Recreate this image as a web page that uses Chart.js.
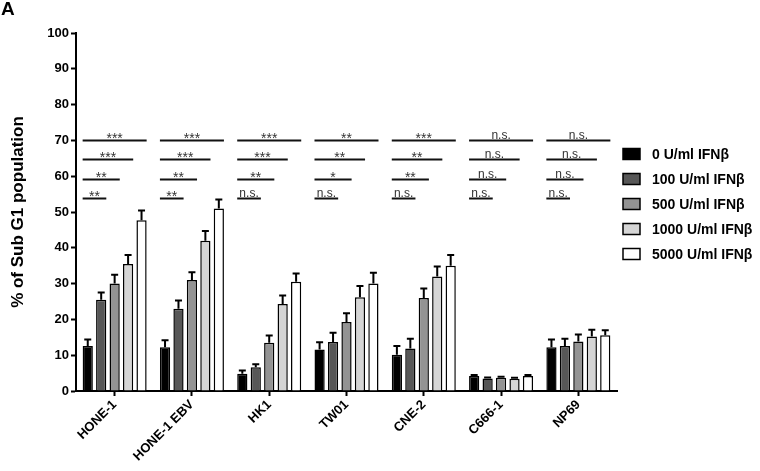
<!DOCTYPE html>
<html>
<head>
<meta charset="utf-8">
<script src="https://cdn.jsdelivr.net/npm/chart.js@4.4.1/dist/chart.umd.min.js"></script>
<style>
  html, body { margin: 0; padding: 0; background: #fff; }
  #wrap { width: 760px; height: 471px; position: relative; }
</style>
</head>
<body>
<div id="wrap"><canvas id="chart"></canvas></div>
<script>
/* ---- data ---- */
const cellLines = ["HONE-1", "HONE-1 EBV", "HK1", "TW01", "CNE-2", "C666-1", "NP69"];
const doseLabels = ["0 U/ml IFNβ", "100 U/ml IFNβ", "500 U/ml IFNβ", "1000 U/ml IFNβ", "5000 U/ml IFNβ"];
const doseColors = ["#000000", "#575757", "#939393", "#d5d5d5", "#ffffff"];

const dose0    = [12.6, 12.2,  4.8, 11.6, 10.1, 4.2, 12.2];
const dose100  = [25.5, 23.0,  6.6, 13.7, 11.9, 3.5, 12.6];
const dose500  = [30.0, 31.0, 13.5, 19.3, 26.0, 3.7, 13.8];
const dose1000 = [35.5, 42.0, 24.3, 26.2, 32.0, 3.4, 15.2];
const dose5000 = [47.7, 51.0, 30.5, 30.0, 35.0, 4.2, 15.6];

const err0    = [1.8, 2.0, 0.9, 2.0, 2.5, 0.3, 2.2];
const err100  = [2.0, 2.3, 0.9, 2.6, 2.7, 0.3, 2.0];
const err500  = [2.5, 2.2, 2.0, 2.4, 2.6, 0.3, 2.0];
const err1000 = [2.5, 2.7, 2.4, 3.1, 2.8, 0.3, 1.9];
const err5000 = [2.7, 2.5, 2.3, 3.0, 3.0, 0.3, 1.4];

// significance vs 0 U/ml, one row per compared dose (top row = 5000)
const sig5000 = ["***", "***", "***", "**", "***", "n.s.", "n.s."];
const sig1000 = ["***", "***", "***", "**", "**", "n.s.", "n.s."];
const sig500  = ["**", "**", "**", "*", "**", "n.s.", "n.s."];
const sig100  = ["**", "**", "n.s.", "n.s.", "n.s.", "n.s.", "n.s."];
const sigLevels = [70.2, 64.7, 59.2, 53.9];
const sigTargets = [4, 3, 2, 1];

const yTicks = [0, 10, 20, 30, 40, 50, 60, 70, 80, 90, 100];

const FONT = "'Liberation Sans', Arial, Helvetica, sans-serif";

const values = [dose0, dose100, dose500, dose1000, dose5000];
const errors = [err0, err100, err500, err1000, err5000];
const sigRows = [sig5000, sig1000, sig500, sig100];

/* ---- plugins ---- */
const errorBars = {
    id: "errorBars",
    afterDatasetsDraw(chart) {
        const ctx = chart.ctx;
        const y = chart.scales.y;
        ctx.save();
        ctx.strokeStyle = "#000";
        ctx.lineWidth = 2;
        chart.data.datasets.forEach((ds, di) => {
            const meta = chart.getDatasetMeta(di);
            meta.data.forEach((bar, i) => {
                const top = y.getPixelForValue(ds.data[i] + errors[di][i]);
                ctx.beginPath();
                ctx.moveTo(bar.x, bar.y);
                ctx.lineTo(bar.x, top);
                ctx.moveTo(bar.x - 3.5, top);
                ctx.lineTo(bar.x + 3.5, top);
                ctx.stroke();
            });
        });
        ctx.restore();
    }
};

const sigMarks = {
    id: "sigMarks",
    afterDatasetsDraw(chart) {
        const ctx = chart.ctx;
        const y = chart.scales.y;
        ctx.save();
        cellLines.forEach((_, g) => {
            const first = chart.getDatasetMeta(0).data[g];
            const x0 = first.x - first.width / 2;
            sigRows.forEach((row, r) => {
                const target = chart.getDatasetMeta(sigTargets[r]).data[g];
                const x1 = target.x + target.width / 2;
                const ly = Math.round(y.getPixelForValue(sigLevels[r])) + 0.5;
                ctx.strokeStyle = "#111";
                ctx.lineWidth = 2;
                ctx.beginPath();
                ctx.moveTo(x0, ly);
                ctx.lineTo(x1, ly);
                ctx.stroke();
                const label = row[g];
                ctx.fillStyle = "#333";
                ctx.textAlign = "center";
                ctx.textBaseline = "alphabetic";
                if (label === "n.s.") {
                    ctx.font = "12px " + FONT;
                    ctx.fillText(label, (x0 + x1) / 2, ly - 2);
                } else {
                    ctx.font = "14px " + FONT;
                    ctx.fillText(label, (x0 + x1) / 2, ly + 2.5);
                }
            });
        });
        ctx.restore();
    }
};

const sideLegend = {
    id: "sideLegend",
    afterDraw(chart) {
        const ctx = chart.ctx;
        ctx.save();
        ctx.font = "bold 14px " + FONT;
        ctx.textAlign = "left";
        ctx.textBaseline = "middle";
        chart.data.datasets.forEach((ds, i) => {
            const cy = 154 + i * 25;
            ctx.fillStyle = ds.backgroundColor;
            ctx.fillRect(623, cy - 5.5, 17, 11);
            ctx.strokeStyle = "#000";
            ctx.lineWidth = 1.5;
            ctx.strokeRect(623, cy - 5.5, 17, 11);
            ctx.fillStyle = "#000";
            ctx.fillText(ds.label, 652, cy + 1);
        });
        // panel letter
        ctx.font = "bold 19px " + FONT;
        ctx.textBaseline = "top";
        ctx.fillText("A", 1, 0);
        ctx.restore();
    }
};

/* ---- chart ---- */
new Chart(document.getElementById("chart"), {
    type: "bar",
    data: {
        labels: cellLines,
        datasets: doseLabels.map((lab, i) => ({
            label: lab,
            data: values[i],
            backgroundColor: doseColors[i],
            borderColor: "#000",
            borderWidth: 1.5,
            categoryPercentage: 0.87,
            barPercentage: 0.76
        }))
    },
    options: {
        responsive: true,
        maintainAspectRatio: false,
        animation: false,
        layout: { padding: { left: 0, right: 143, top: 33, bottom: 0 } },
        plugins: {
            legend: { display: false },
            tooltip: { enabled: false }
        },
        scales: {
            x: {
                afterFit(scale) { scale.height = 80; },
                border: { display: true, color: "#000", width: 2 },
                grid: { display: true, drawOnChartArea: false, offset: false, tickLength: 5, tickColor: "#000", tickWidth: 2 },
                ticks: {
                    color: "#000",
                    font: { family: FONT, size: 13, weight: "bold" },
                    minRotation: 45,
                    maxRotation: 45,
                    padding: 1,
                    autoSkip: false
                }
            },
            y: {
                min: 0,
                max: 100,
                afterFit(scale) { scale.width = 76; },
                afterBuildTicks(scale) { scale.ticks = yTicks.map(v => ({ value: v })); },
                border: { display: true, color: "#000", width: 2 },
                grid: { display: true, drawOnChartArea: false, tickLength: 5, tickColor: "#000", tickWidth: 2 },
                ticks: {
                    color: "#000",
                    font: { family: FONT, size: 13, weight: "bold" },
                    padding: 2
                },
                title: {
                    display: true,
                    text: "% of Sub G1 population",
                    color: "#000",
                    font: { family: FONT, size: 17, weight: "bold" },
                    padding: { top: 8, bottom: 0 }
                }
            }
        }
    },
    plugins: [errorBars, sigMarks, sideLegend]
});
</script>
</body>
</html>
